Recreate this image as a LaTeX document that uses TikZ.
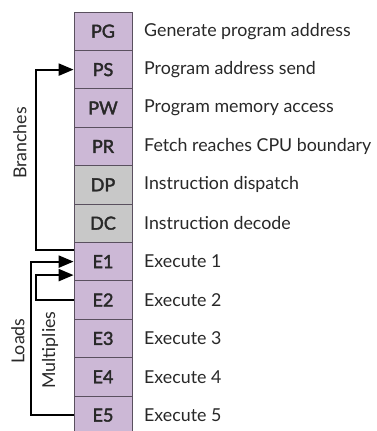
\documentclass[tikz,border=0pt]{standalone}
\usepackage{fontspec}
\setmainfont{Lato}
\usetikzlibrary{arrows.meta}
\definecolor{stpurple}{RGB}{204,184,214}
\definecolor{stgray}{RGB}{200,200,200}
\definecolor{stedge}{RGB}{90,80,95}
\definecolor{sttext}{RGB}{40,40,40}
\begin{document}
\begin{tikzpicture}[x=1pt,y=-1pt,
  stagebox/.style={draw=stedge,line width=0.8pt,minimum width=58pt,minimum height=38.4pt,inner sep=0pt,font=\fontsize{18}{20}\selectfont\addfontfeatures{FakeBold=2.2},text=sttext},
  purp/.style={stagebox,fill=stpurple},
  grey/.style={stagebox,fill=stgray},
  desc/.style={anchor=west,font=\fontsize{17.8}{20}\selectfont,text=sttext,inner sep=0pt},
  arr/.style={line width=2.2pt,-{Triangle[length=15pt,width=12pt]},draw=black},
  lab/.style={rotate=90,font=\fontsize{17.8}{20}\selectfont,text=sttext,inner sep=0pt}]
\useasboundingbox (0,0) rectangle (377,431);
\foreach \n/\t/\s [count=\i from 0] in {PG/PG/purp,PS/PS/purp,PW/PW/purp,PR/PR/purp,DP/DP/grey,DC/DC/grey,E1/E1/purp,E2/E2/purp,E3/E3/purp,E4/E4/purp,E5/E5/purp}{
  \node[\s] (\n) at (103,{12+38.4*(\i+0.5)}) {\t};
}
\node[desc] (tPG) at (144,31.2) {Generate program address};
\node[desc] (tPS) at (144,69.6) {Program address send};
\node[desc] (tPW) at (144,108) {Program memory access};
\node[desc] (tPR) at (144,146.4) {Fetch reaches CPU boundary};
\node[desc] (tDP) at (144,184.8) {Instruction dispatch};
\node[desc] (tDC) at (144,223.2) {Instruction decode};
\node[desc] (tE1) at (144,261.6) {Execute 1};
\node[desc] (tE2) at (144,300) {Execute 2};
\node[desc] (tE3) at (144,338.4) {Execute 3};
\node[desc] (tE4) at (144,376.8) {Execute 4};
\node[desc] (tE5) at (144,415.2) {Execute 5};
\draw[arr] ([yshift=11.5pt]E1.west) -- ++(-38,0) |- (PS.west);
\draw[arr] (E5.west) -- ++(-43,0) |- (E1.west);
\draw[arr] (E2.west) -- ++(-38,0) |- ([yshift=-13.5pt]E1.west);
\node[lab] (lBr) at (20,143) {Branches};
\node[lab] (lLo) at (18,341) {Loads};
\node[lab] (lMu) at (50,350) {Multiplies};
\end{tikzpicture}
\end{document}
